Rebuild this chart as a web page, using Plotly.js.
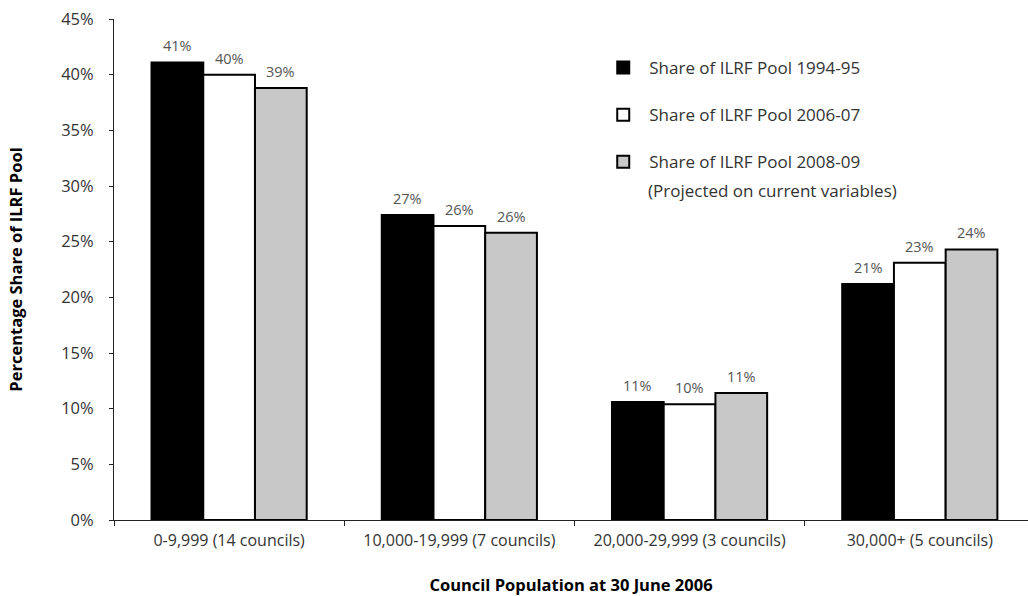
<!DOCTYPE html>
<html>
<head>
<meta charset="utf-8">
<script src="https://cdn.plot.ly/plotly-3.0.1.min.js"></script>
<style>
  html, body { margin: 0; padding: 0; background: #fff; overflow: hidden; }
  #chart { width: 1028px; height: 596px; }
</style>
</head>
<body>
<div id="chart"></div>
<script>
// Council population bands
const categories = [
  "0-9,999 (14 councils)",
  "10,000-19,999 (7 councils)",
  "20,000-29,999 (3 councils)",
  "30,000+ (5 councils)"
];

// Share of the ILRF pool (%) by period
const share1994 = [41.1, 27.4, 10.6, 21.2];
const share2006 = [40.0, 26.4, 10.4, 23.1];
const share2008 = [38.8, 25.8, 11.4, 24.3];

const seriesNames = [
  "Share of ILRF Pool 1994-95",
  "Share of ILRF Pool 2006-07",
  "Share of ILRF Pool 2008-09"
];
const seriesNote = "(Projected on current variables)";

const yTicks = [0, 5, 10, 15, 20, 25, 30, 35, 40, 45];

const fills = ["#000000", "#ffffff", "#c8c8c8"];
const allSeries = [share1994, share2006, share2008];

const FONT = "Open Sans, sans-serif";
const bargap = 0.326;
const barW = (1 - bargap) / 3;

const traces = allSeries.map((vals, s) => ({
  type: "bar",
  name: seriesNames[s],
  legendgroup: "g" + s,
  x: categories,
  y: vals,
  marker: { color: fills[s], line: { color: "#000", width: 2 } },
  hoverinfo: "skip"
}));

// value labels above each bar, taken from the same series values
const annotations = [];
allSeries.forEach((vals, s) => {
  vals.forEach((v, i) => {
    annotations.push({
      xref: "x", yref: "y",
      x: i + (s - 1) * barW,
      y: v,
      text: Math.round(v) + "%",
      showarrow: false,
      yanchor: "bottom",
      yshift: 5,
      font: { family: FONT, size: 14.5, color: "#555" }
    });
  });
});

// second line of the third legend entry
annotations.push({
  xref: "paper", yref: "paper",
  x: (646 - 113.5) / 914.5, y: (520 - 191) / 501,
  xanchor: "left", yanchor: "middle",
  text: seriesNote, showarrow: false,
  font: { family: FONT, size: 17, color: "#333" }
});

const layout = {
  width: 1028, height: 596,
  margin: { l: 113.5, r: 0, t: 19, b: 76 },
  paper_bgcolor: "#fff", plot_bgcolor: "#fff",
  barmode: "group",
  bargap: bargap,
  bargroupgap: 0,
  showlegend: true,
  legend: {
    x: (597 - 113.5) / 914.5, y: (520 - 50) / 501,
    xanchor: "left", yanchor: "top",
    bgcolor: "rgba(0,0,0,0)",
    itemwidth: 42,
    tracegroupgap: 22,
    traceorder: "grouped",
    font: { family: FONT, size: 17, color: "#333" }
  },
  xaxis: {
    type: "category",
    range: [-0.5, 3.47],
    showline: true, linecolor: "#222", linewidth: 1,
    ticks: "outside", tickson: "boundaries", ticklen: 5, tickcolor: "#222",
    ticklabelstandoff: 6,
    showgrid: false, zeroline: false,
    tickfont: { family: FONT, size: 16, color: "#333" },
    title: {
      text: "<b>Council Population at 30 June 2006</b>",
      standoff: 29,
      font: { family: FONT, size: 16.5, color: "#000" }
    }
  },
  yaxis: {
    range: [0, 45],
    tickvals: yTicks,
    ticktext: yTicks.map(t => t + "%"),
    showline: true, linecolor: "#222", linewidth: 1,
    ticks: "outside", ticklen: 4, tickcolor: "#222",
    ticklabelstandoff: 12,
    showgrid: false, zeroline: false,
    tickfont: { family: FONT, size: 16.5, color: "#333" },
    title: {
      text: "<b>Percentage Share of ILRF Pool</b>",
      standoff: 34,
      font: { family: FONT, size: 16.5, color: "#000" }
    }
  },
  annotations: annotations
};

Plotly.newPlot("chart", traces, layout, { displayModeBar: false, staticPlot: true });
</script>
</body>
</html>
